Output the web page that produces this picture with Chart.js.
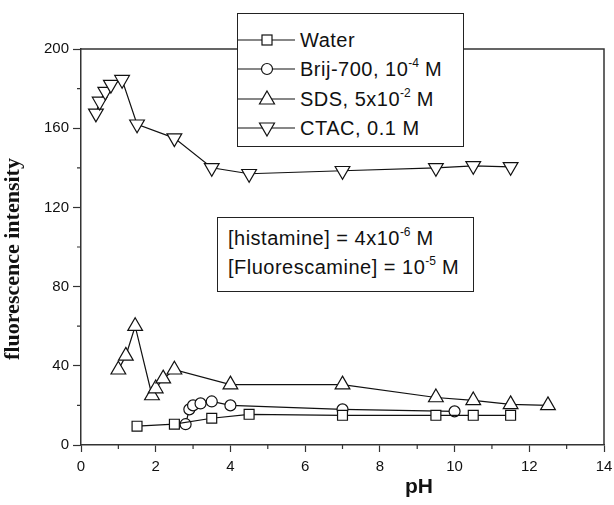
<!DOCTYPE html>
<html>
<head>
<meta charset="utf-8">
<script src="https://cdn.jsdelivr.net/npm/chart.js@4"></script>
<style>
  body { margin: 0; background: #fff; }
  #wrap { position: relative; width: 614px; height: 505px; }
  canvas { position: absolute; left: 0; top: 0; }
  .box { position: absolute; background: #fff; border: 1.5px solid #222; box-sizing: border-box;
         font-family: "Liberation Sans", Arial, sans-serif; color: #111; }
  .row { position: absolute; left: 0; height: 30px; line-height: 30px; font-size: 20px; white-space: nowrap; letter-spacing: 0.5px; }
  .row svg { position: absolute; left: 0; top: 0; }
  .row span { position: absolute; left: 62px; }
  sup { font-size: 12px; vertical-align: 0; position: relative; top: -9px; letter-spacing: 0; }
  .note { position: absolute; left: 10px; font-size: 20px; white-space: nowrap; letter-spacing: 0.5px; }
</style>
</head>
<body>
<div id="wrap">
  <canvas id="grafico" width="614" height="505"></canvas>

  <div class="box" id="leyenda" style="left:237px; top:13px; width:227px; height:134px;"></div>

  <div class="box" style="left:217px; top:217px; width:257px; height:75px;">
    <div class="note" style="top:9px;">[histamine] = 4x10<sup>-6</sup> M</div>
    <div class="note" style="top:38px;">[Fluorescamine] = 10<sup>-5</sup> M</div>
  </div>
</div>

<script>
// Datos
const phWater = [1.5, 2.5, 3.5, 4.5, 7, 9.5, 10.5, 11.5];
const intWater = [9.5, 10.5, 13.5, 15.5, 15, 15, 15, 15];

const phBrij = [2.8, 2.9, 3.0, 3.2, 3.5, 4, 7, 10];
const intBrij = [10.5, 18, 20, 21, 22, 20, 18, 17];

const phSDS = [1, 1.2, 1.45, 1.9, 2, 2.2, 2.5, 4, 7, 9.5, 10.5, 11.5, 12.5];
const intSDS = [38, 45, 60, 25, 28.5, 33.5, 38, 30.5, 30.5, 24, 22.5, 20.5, 20];

const phCTAC = [0.4, 0.5, 0.65, 0.8, 1.1, 1.5, 2.5, 3.5, 4.5, 7, 9.5, 10.5, 11.5];
const intCTAC = [167.5, 173.5, 178.5, 182, 184.5, 162, 155, 140, 137, 138.5, 140, 141, 140.5];

const nombres = ['Water', 'Brij-700, 10<sup>-4</sup> M', 'SDS, 5x10<sup>-2</sup> M', 'CTAC, 0.1 M'];

const xTicks = [0, 2, 4, 6, 8, 10, 12, 14];
const yTicks = [0, 40, 80, 120, 160, 200];

function puntos(xs, ys) {
    return xs.map((x, i) => ({ x: x, y: ys[i] }));
}

function serie(label, xs, ys, estilo, radio, rot) {
    return {
        label: label,
        data: puntos(xs, ys),
        showLine: true,
        borderColor: '#111',
        borderWidth: 1.2,
        backgroundColor: '#fff',
        pointStyle: estilo,
        pointRadius: radio,
        pointRotation: rot || 0,
        pointBorderWidth: 1.2,
        pointBorderColor: '#111',
        pointBackgroundColor: '#fff',
        tension: 0
    };
}

// Marcas menores, marco superior/derecho y títulos de ejes
const extras = {
    id: 'extras',
    afterDraw(chart) {
        const ctx = chart.ctx;
        const a = chart.chartArea;
        const sx = chart.scales.x, sy = chart.scales.y;
        ctx.save();
        ctx.strokeStyle = '#333';
        ctx.lineWidth = 1.5;
        ctx.beginPath();
        ctx.moveTo(a.left, a.top);
        ctx.lineTo(a.right, a.top);
        ctx.lineTo(a.right, a.bottom);
        ctx.stroke();
        ctx.lineWidth = 1.2;
        ctx.beginPath();
        for (let v = 1; v < 14; v += 2) {
            const px = sx.getPixelForValue(v);
            ctx.moveTo(px, a.bottom);
            ctx.lineTo(px, a.bottom + 4);
        }
        for (let v = 20; v < 200; v += 40) {
            const py = sy.getPixelForValue(v);
            ctx.moveTo(a.left, py);
            ctx.lineTo(a.left - 4, py);
        }
        ctx.stroke();

        ctx.fillStyle = '#111';
        ctx.textAlign = 'center';
        ctx.textBaseline = 'middle';
        ctx.font = 'bold 21px "Liberation Sans", Arial, sans-serif';
        ctx.fillText('pH', 419, 487);
        ctx.translate(13, 259);
        ctx.rotate(-Math.PI / 2);
        ctx.font = 'bold 22px "Liberation Serif", "Times New Roman", serif';
        ctx.fillText('fluorescence intensity', 0, 0);
        ctx.restore();
    }
};

const chart = new Chart(document.getElementById('grafico').getContext('2d'), {
    type: 'scatter',
    data: {
        datasets: [
            serie('Water', phWater, intWater, 'rect', 7),
            serie('Brij-700', phBrij, intBrij, 'circle', 5.5),
            serie('SDS', phSDS, intSDS, 'triangle', 8.5),
            serie('CTAC', phCTAC, intCTAC, 'triangle', 8.5, 180)
        ]
    },
    options: {
        responsive: false,
        animation: false,
        layout: { padding: { left: 0, top: 49, right: 10, bottom: 0 } },
        plugins: { legend: { display: false }, tooltip: { enabled: false } },
        scales: {
            x: {
                type: 'linear', min: 0, max: 14,
                afterBuildTicks: s => { s.ticks = xTicks.map(v => ({ value: v })); },
                afterFit: s => { s.height = 60; s.paddingLeft = 0; s.paddingRight = 0; },
                grid: { drawOnChartArea: false, tickLength: 7, tickColor: '#333', tickWidth: 1.2 },
                border: { color: '#333', width: 1.5 },
                ticks: { color: '#111', padding: 6, maxRotation: 0,
                         font: { family: '"Liberation Sans", Arial, sans-serif', size: 15 } }
            },
            y: {
                type: 'linear', min: 0, max: 200,
                afterBuildTicks: s => { s.ticks = yTicks.map(v => ({ value: v })); },
                afterFit: s => { s.width = 81; s.paddingTop = 0; s.paddingBottom = 0; },
                grid: { drawOnChartArea: false, tickLength: 8, tickColor: '#333', tickWidth: 1.2 },
                border: { color: '#333', width: 1.5 },
                ticks: { color: '#111', padding: 4,
                         font: { family: '"Liberation Sans", Arial, sans-serif', size: 15 } }
            }
        }
    },
    plugins: [extras]
});

// Leyenda en HTML (para los superíndices)
const marcas = [
    '<rect x="24" y="10" width="10" height="10" fill="#fff" stroke="#111" stroke-width="1.2"/>',
    '<circle cx="29" cy="15" r="5.5" fill="#fff" stroke="#111" stroke-width="1.2"/>',
    '<polygon points="29,7 36.5,20 21.5,20" fill="#fff" stroke="#111" stroke-width="1.2"/>',
    '<polygon points="29,23 36.5,10 21.5,10" fill="#fff" stroke="#111" stroke-width="1.2"/>'
];
const filas = [11, 40, 70, 99];
const leyenda = document.getElementById('leyenda');
nombres.forEach((n, i) => {
    const fila = document.createElement('div');
    fila.className = 'row';
    fila.style.top = filas[i] + 'px';
    fila.innerHTML = '<svg width="58" height="30"><line x1="0" y1="15" x2="57" y2="15" stroke="#111" stroke-width="1.2"/>' +
        marcas[i] + '</svg><span>' + n + '</span>';
    leyenda.appendChild(fila);
});
</script>
</body>
</html>
